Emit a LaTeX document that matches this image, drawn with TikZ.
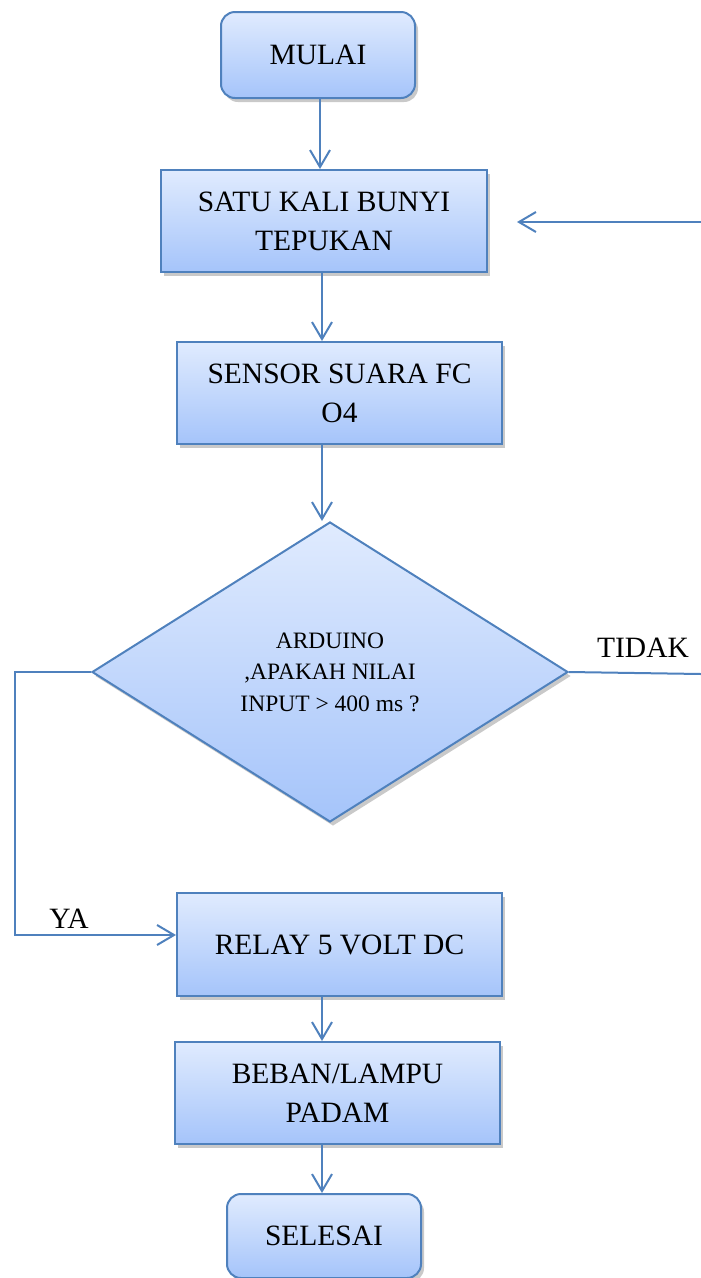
\documentclass[tikz,border=0pt]{standalone}
\usepackage{fontspec}
\setmainfont{Liberation Serif}
\usetikzlibrary{arrows.meta,shapes.geometric,shadows,calc}
\definecolor{edgeblue}{RGB}{79,129,189}
\definecolor{topblue}{RGB}{224,235,254}
\definecolor{botblue}{RGB}{165,196,250}
\tikzset{
  boxbase/.style={draw=edgeblue, line width=2pt, top color=topblue, bottom color=botblue,
    drop shadow={shadow xshift=3pt, shadow yshift=-4pt, opacity=0.3, fill=black!70},
    align=center, inner sep=0pt, font=\fontsize{29.5}{39}\selectfont},
  procbox/.style={boxbase, rectangle, minimum width=325pt, minimum height=102pt},
  termbox/.style={boxbase, rectangle, rounded corners=14pt, minimum width=194pt, minimum height=86pt},
  decbox/.style={boxbase, diamond, minimum width=476pt, minimum height=300pt, font=\fontsize{23.5}{31.5}\selectfont},
  flow/.style={draw=edgeblue, line width=2pt, -{Straight Barb[length=17pt,width=20pt,line width=2pt]}},
  plain/.style={draw=edgeblue, line width=2pt},
  lbl/.style={font=\fontsize{29.5}{35}\selectfont, inner sep=0pt}
}
\begin{document}
\begin{tikzpicture}[x=1pt,y=-1pt]
\useasboundingbox (0,0) rectangle (701,1278);
\node[termbox] (mulai) at (318,55) {MULAI};
\node[procbox, minimum width=326pt] (satu) at (324,221) {SATU KALI BUNYI\\TEPUKAN};
\node[procbox] (sensor) at (339.5,393) {SENSOR SUARA FC\\O4};
\node[decbox] (dec) at (330,672) {ARDUINO\\,APAKAH NILAI\\INPUT > 400 ms ?};
\node[procbox, minimum height=103pt] (relay) at (339.5,944.5) {RELAY 5 VOLT DC};
\node[procbox] (beban) at (337.5,1093) {BEBAN/LAMPU\\PADAM};
\node[termbox, minimum height=84pt] (selesai) at (324,1236) {SELESAI};

\node[lbl] (tidak) at (643,648) {TIDAK};
\node[lbl] (ya) at (69,919) {YA};

\coordinate (rin) at (701,222);
\coordinate (rend) at (517,222);
\coordinate (tout) at (701,674);
\coordinate (ycorner) at (15,935);
\coordinate (s1) at (322,272);

\draw[flow] (320,98) coordinate (m1) -- (m1 |- satu.north);
\draw[flow] (s1 |- satu.south) -- (s1 |- sensor.north);
\draw[flow] (s1 |- sensor.south) -- (s1 |- dec.north);
\draw[flow] (rin) -- (rend);
\draw[plain] (dec.east) -- (tout);
\draw[flow] (dec.west) -| (ycorner) -- (ycorner -| relay.west);
\draw[flow] (s1 |- relay.south) -- (s1 |- beban.north);
\draw[flow] (s1 |- beban.south) -- (s1 |- selesai.north);
\end{tikzpicture}
\end{document}
